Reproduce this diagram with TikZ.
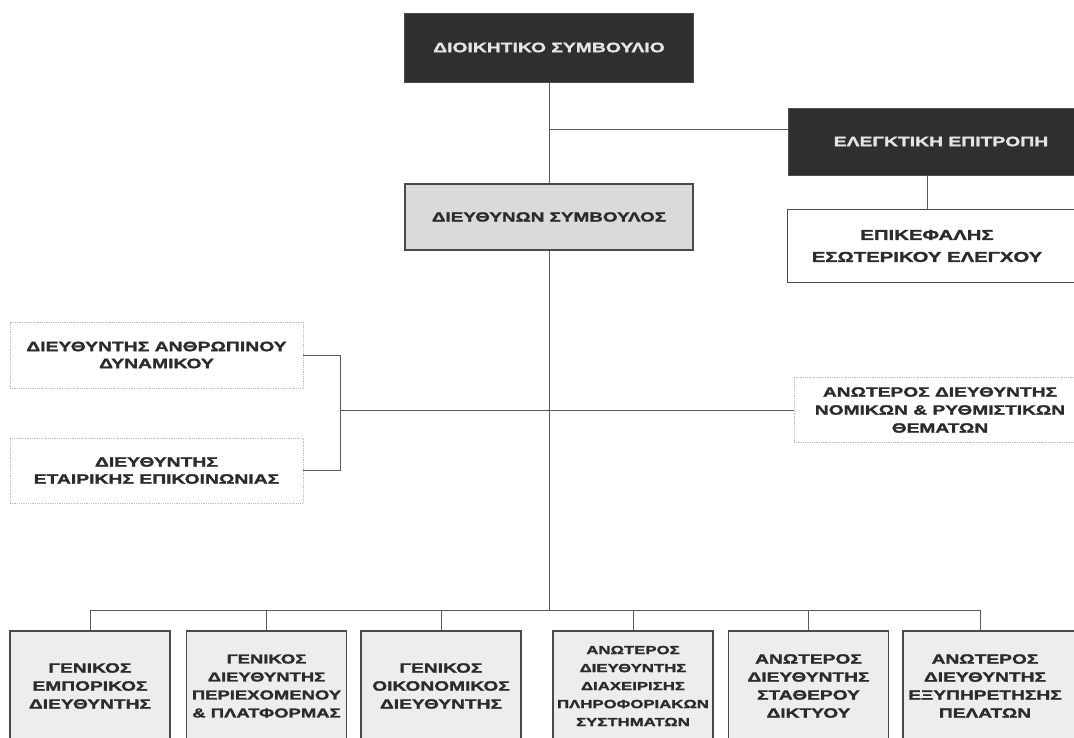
\documentclass[tikz,border=0pt]{standalone}
\usepackage{fontspec}
\newfontfamily\hdfont{Liberation Sans}[FakeStretch=1.42, BoldFeatures={FakeBold=1.6}]
\usetikzlibrary{backgrounds}
\definecolor{boxdark}{HTML}{2F2F2F}
\definecolor{boxceo}{HTML}{DADADA}
\definecolor{boxbot}{HTML}{EDEDED}
\definecolor{edge}{HTML}{4A4A4A}
\definecolor{lightedge}{HTML}{BBBBBB}
\definecolor{txt}{HTML}{2B2B2B}
\definecolor{txtlight}{HTML}{E4E4E4}
\definecolor{conn}{HTML}{5A5A5A}
\begin{document}
\begin{tikzpicture}[x=1pt,y=-1pt,
  base/.style={align=center, inner sep=0pt, text=txt},
  midfont/.style={font={\hdfont\bfseries\fontsize{13.6}{17}\selectfont}},
  botfont/.style={font={\hdfont\bfseries\fontsize{13.5}{18}\selectfont}},
  darkbox/.style={base, midfont, fill=boxdark, draw=black!70, line width=1pt, text=txtlight},
  ceobox/.style={base, midfont, fill=boxceo, draw=edge, line width=1.2pt},
  sidebox/.style={base, midfont, fill=white, draw=lightedge, densely dotted, line width=0.8pt, minimum width=293, minimum height=66},
  iabox/.style={base, font={\hdfont\bfseries\fontsize{14.3}{22}\selectfont}},
  iaframe/.style={fill=white, draw=edge, line width=1.2pt},
  botbox/.style={base, botfont, fill=boxbot, draw=edge, line width=1.5pt, minimum width=160, minimum height=110},
  botframe/.style={fill=boxbot, draw=edge, line width=1.5pt},
  link/.style={draw=conn, line width=1pt}
]
\useasboundingbox (0,0) rectangle (1074,737);

% top level
\node[darkbox, minimum width=289, minimum height=69] (board) at (549,47.5) {ΔΙΟΙΚΗΤΙΚΟ ΣΥΜΒΟΥΛΙΟ};
\node[darkbox, minimum width=306, minimum height=67, font={\hdfont\bfseries\fontsize{13.6}{17}\selectfont}] (audit) at (941,141.5) {ΕΛΕΓΚΤΙΚΗ ΕΠΙΤΡΟΠΗ};
\node[ceobox, minimum width=288, minimum height=66, font={\hdfont\bfseries\fontsize{13.3}{17}\selectfont}] (ceo) at (549,217) {ΔΙΕΥΘΥΝΩΝ ΣΥΜΒΟΥΛΟΣ};
\node[iabox, minimum width=278, minimum height=67] (ia) at (927,246) {ΕΠΙΚΕΦΑΛΗΣ\\ΕΣΩΤΕΡΙΚΟΥ ΕΛΕΓΧΟΥ};

% side boxes
\node[sidebox] (hr) at (156.5,355) {ΔΙΕΥΘΥΝΤΗΣ ΑΝΘΡΩΠΙΝΟΥ\\ΔΥΝΑΜΙΚΟΥ};
\node[sidebox, minimum height=65] (cc) at (156.5,470.5) {ΔΙΕΥΘΥΝΤΗΣ\\ΕΤΑΙΡΙΚΗΣ ΕΠΙΚΟΙΝΩΝΙΑΣ};
\node[sidebox, minimum width=292, minimum height=65, font={\hdfont\bfseries\fontsize{13.5}{18}\selectfont}] (legal) at (940,410) {ΑΝΩΤΕΡΟΣ ΔΙΕΥΘΥΝΤΗΣ\\ΝΟΜΙΚΩΝ \& ΡΥΘΜΙΣΤΙΚΩΝ\\ΘΕΜΑΤΩΝ};

% bottom row
\node[botbox] (b1) at (90,686) {ΓΕΝΙΚΟΣ\\ΕΜΠΟΡΙΚΟΣ\\ΔΙΕΥΘΥΝΤΗΣ};
\node[botbox, font={\hdfont\bfseries\fontsize{13}{18}\selectfont}] (b2) at (266.5,686) {ΓΕΝΙΚΟΣ\\ΔΙΕΥΘΥΝΤΗΣ\\ΠΕΡΙΕΧΟΜΕΝΟΥ\\\& ΠΛΑΤΦΟΡΜΑΣ};
\node[botbox] (b3) at (441,686) {ΓΕΝΙΚΟΣ\\ΟΙΚΟΝΟΜΙΚΟΣ\\ΔΙΕΥΘΥΝΤΗΣ};
\node[botbox, font={\hdfont\bfseries\fontsize{11.8}{18}\selectfont}] (b4) at (633,686) {ΑΝΩΤΕΡΟΣ\\ΔΙΕΥΘΥΝΤΗΣ\\ΔΙΑΧΕΙΡΙΣΗΣ\\ΠΛΗΡΟΦΟΡΙΑΚΩΝ\\ΣΥΣΤΗΜΑΤΩΝ};
\node[botbox] (b5) at (808.5,686) {ΑΝΩΤΕΡΟΣ\\ΔΙΕΥΘΥΝΤΗΣ\\ΣΤΑΘΕΡΟΥ\\ΔΙΚΤΥΟΥ};
\node[base, botfont, minimum width=158, minimum height=110] (b6) at (985,686) {ΑΝΩΤΕΡΟΣ\\ΔΙΕΥΘΥΝΤΗΣ\\ΕΞΥΠΗΡΕΤΗΣΗΣ\\ΠΕΛΑΤΩΝ};

\begin{pgfonlayer}{background}
  \fill[white] (0,0) rectangle (1074,737);
  \path[iaframe] ([yshift=2.5pt]ia.north west) rectangle ([xshift=40pt,yshift=-2.5pt]ia.south east);
  \path[botframe] ([xshift=-3pt]b6.north west) rectangle ([xshift=40pt]b6.south east);
\end{pgfonlayer}

% connectors
\coordinate (auditin) at ([yshift=12.5pt]audit.west);
\coordinate (bus) at (549,610);
\coordinate (br) at (340,410);

\draw[link] (board.south) -- (ceo.north);
\draw[link] (board.south |- auditin) -- (auditin);
\draw[link] (audit.south -| ia.north) -- ([yshift=2.5pt]ia.north);
\draw[link] (ceo.south) -- (bus);
\draw[link] (hr.east) -- (hr.east -| br) -- (cc.east -| br) -- (cc.east);
\draw[link] (br) -- (legal.west);
\draw[link] (b1.north) -- (b1.north |- bus) -- ([xshift=-5pt]b6.north |- bus) -- ([xshift=-5pt]b6.north);
\foreach \b in {b2,b3,b4,b5} \draw[link] (\b.north) -- (\b.north |- bus);
\end{tikzpicture}
\end{document}
